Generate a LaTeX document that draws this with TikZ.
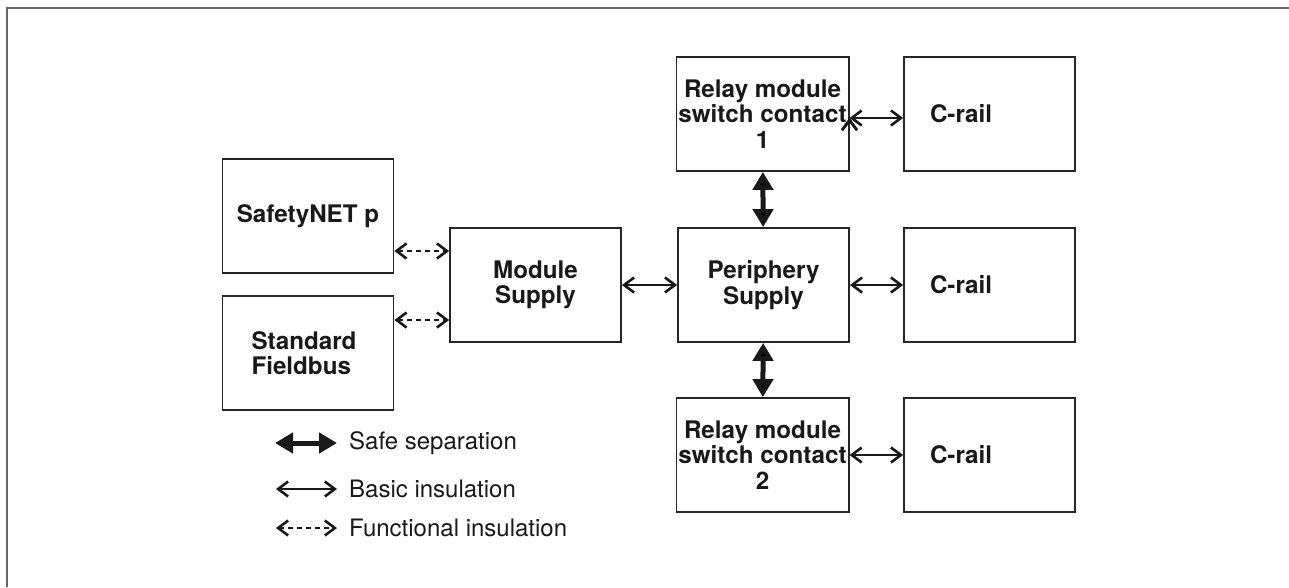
\documentclass[tikz,border=0pt]{standalone}
\usepackage{fontspec}
\setmainfont{TeX Gyre Heros}
\usepackage{tikz}
\usetikzlibrary{arrows.meta}
\usetikzlibrary{calc}

\tikzset{
	blk/.style={draw=black!85, line width=1.8pt, minimum width=171pt, minimum height=114pt,
		inner sep=2pt, align=center, text=black!90, font=\bfseries\fontsize{24.2}{25.5}\selectfont},
	leftblk/.style={blk, align=left, text width=#1, inner xsep={(171pt-#1)/2}},
	basic/.style={draw=black!90, line width=2.6pt,
		{Straight Barb[length=10pt,width=15pt]}-{Straight Barb[length=10pt,width=15pt]}},
	func/.style={basic, dash pattern=on 5pt off 4pt},
	safe/.style={draw=black!90, line width=5pt,
		{Triangle[length=18pt,width=20pt]}-{Triangle[length=18pt,width=20pt]}},
	legtxt/.style={anchor=west, inner xsep=12pt, text=black!90, font=\fontsize{24}{25}\selectfont}
}

\begin{document}
\begin{tikzpicture}[x=1pt,y=-1pt]
\useasboundingbox (0,0) rectangle (1289,587);
\draw[black!60, line width=2pt] (1289,8) -- (7,8) -- (7,587);

%left column
\node[blk] (safety) at (308,216) {SafetyNET p};
\node[leftblk=113pt] (fieldbus) at (308,353) {Standard\\Fieldbus};
\node[blk] (module) at (535.5,285) {Module\\Supply};

%middle column
\node[blk] (periphery) at (763.5,285) {Periphery\\Supply};
\node[blk] (relayA) at (762.5,114) {Relay module\\switch contact\\1};
\node[blk] (relayB) at (762.5,455) {Relay module\\switch contact\\2};

%right column
\node[leftblk=119pt] (crailA) at (989.5,114) {C-rail};
\node[leftblk=119pt] (crailB) at (989.5,285) {C-rail};
\node[leftblk=119pt] (crailC) at (989.5,455) {C-rail};

\coordinate (modA) at ([yshift=34pt]module.west);
\coordinate (modB) at ([yshift=-35pt]module.west);

\draw[func] (modA -| safety.east) -- (modA);
\draw[func] (modB -| fieldbus.east) -- (modB);
\path[basic]
(module) edge (periphery)
(periphery) edge (crailB)
([yshift=-4pt]relayA.east) edge ([yshift=-4pt]crailA.west)
(relayB) edge (crailC)
;
\path[safe]
(relayA) edge (periphery)
(periphery) edge (relayB)
;

%legend
\node[legtxt] (safetxt) at (337,443) {Safe separation};
\node[legtxt] (basictxt) at (337,489) {Basic insulation};
\node[legtxt] (functxt) at (337,528) {Functional insulation};
\coordinate (safeL) at (275,443);
\coordinate (basicL) at (276,489);
\coordinate (funcL) at (276,528);
\path (safeL) edge[safe] (safetxt.west)
(basicL) edge[basic] (basictxt.west)
(funcL) edge[func] (functxt.west);
\end{tikzpicture}
\end{document}
